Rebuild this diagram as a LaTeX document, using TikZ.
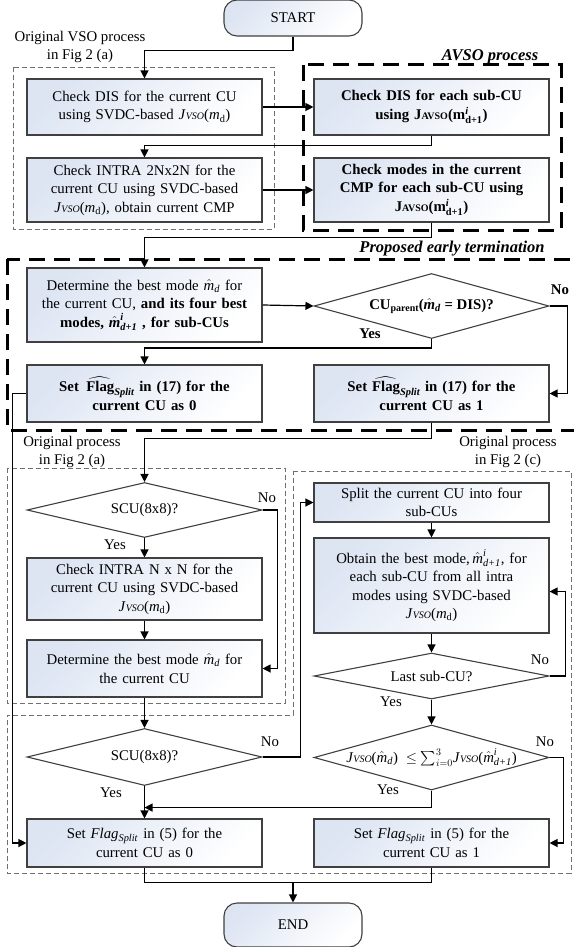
\documentclass[tikz,border=0pt]{standalone}
\usepackage{amsmath}
\usepackage{fontspec}
\setmainfont{Liberation Serif}
\usetikzlibrary{arrows.meta,shapes.geometric,calc}
\definecolor{boxFill}{HTML}{DDE5F3}
\definecolor{boxLine}{HTML}{404040}
\definecolor{dashGray}{HTML}{707070}
\newcommand{\Jv}{\textit{J}{\fontsize{10}{10}\selectfont\textit{VSO}}}
\newcommand{\Jav}{\textbf{J}{\fontsize{10}{10}\selectfont\bfseries AVSO}}
\newcommand{\mdv}{\textit{m}\textsubscript{d}}
\newcommand{\mhat}{$\hat{\textit{m}}_{\textit{d}}$}
\newcommand{\mhati}{$\hat{\textit{m}}^{\textit{i}}_{\textit{d+1}}$}
\newcommand{\mavso}{$\textbf{m}^{\textit{i}}_{\textbf{d+1}}$}

\begin{document}
\begin{tikzpicture}[
  x=1pt, y=-1pt,
  every node/.style={font=\fontsize{14.8}{18.5}\selectfont},
  proc/.style={
    draw=boxLine, line width=1.1pt, top color=boxFill, bottom color=white,
    shading angle=45, minimum width=235pt, text width=229pt, align=center,
    inner sep=2pt,
  },
  procb/.style={proc, font=\fontsize{14.8}{18.5}\selectfont\bfseries},
  term/.style={
    draw=boxLine, line width=1.1pt, top color=boxFill, bottom color=white,
    shading angle=45, rounded corners=13pt, minimum width=138pt,
  },
  decide/.style={diamond, draw=boxLine, line width=1.1pt, fill=white,
    minimum width=235pt, inner sep=0pt},
  arr/.style={-{Triangle[length=8pt,width=8pt]}, line width=1.2pt},
  thindash/.style={draw=dashGray, line width=0.9pt, dash pattern=on 5pt off 3pt},
  thickdash/.style={line width=3pt, dash pattern=on 16pt off 9pt},
  note/.style={align=center},
  title/.style={font=\fontsize{16.5}{20}\selectfont\bfseries\itshape},
]
\useasboundingbox (0,0) rectangle (573,947);

% Process regions
\draw[thindash] (13,67) rectangle (274,229);
\draw[thickdash] (303,65) rectangle (561,230);
\draw[thickdash] (7,259) rectangle (580,430);
\draw[thindash] (7,468) rectangle (285,703);
\draw[thindash] (293,471) -- (571,471) -- (571,873) -- (7,873) -- (7,715)
  -- (293,715) -- cycle;

% Region labels
\node[note] (lblVso) at (80,47) {Original VSO process\\in Fig 2 (a)};
\node[title] (lblAvso) at (490,57) {AVSO process};
\node[title] (lblEarly) at (452,249) {Proposed early termination};
\node[note] (lblOrigA) at (72,452) {Original process\\in Fig 2 (a)};
\node[note] (lblOrigC) at (508,452) {Original process\\in Fig 2 (c)};

% Top part
\node[term, minimum height=36pt] (start) at (293,18) {START};
\node[proc, minimum height=56pt] (dis) at (144.5,107)
  {Check DIS for the current CU\\using SVDC-based \Jv(\mdv)};
\node[procb, minimum height=56pt] (aDis) at (431.5,107)
  {Check DIS for each sub-CU\\using \Jav(\mavso)};
\node[proc, minimum height=64pt] (intra) at (144.5,190)
  {Check INTRA 2Nx2N for the\\current CU using SVDC-based\\\Jv(\mdv), obtain current CMP};
\node[procb, minimum height=64pt] (aModes) at (431.5,190)
  {Check modes in the current\\CMP for each sub-CU using\\\Jav(\mavso)};

% Early termination
\node[proc, minimum height=74pt] (best) at (144.5,305)
  {Determine the best mode \mhat{} for\\the current CU, \textbf{and its four best}\\\textbf{modes, \mhati{} , for sub-CUs}};
\node[decide, minimum height=65pt,
  label={[font=\fontsize{14.8}{18.5}\selectfont\bfseries]center:{CU\raisebox{-1.5pt}{\fontsize{10}{10}\selectfont parent}(\mhat{} = DIS)?}}]
  (parent) at (431.5,306) {};
\node[procb, minimum height=57pt] (set0) at (144.5,393.5)
  {Set \,$\widehat{\textbf{Flag}}_{\textit{Split}}$ in (17) for the\\current CU as 0};
\node[procb, minimum height=57pt] (set1) at (431.5,393.5)
  {Set $\widehat{\textbf{Flag}}_{\textit{Split}}$ in (17) for the\\current CU as 1};
\node (noP) at (560,290) {\textbf{No}};
\node (yesP) at (370,334) {\textbf{Yes}};

% Bottom left
\node[decide, minimum height=55pt, label=center:{SCU(8x8)?}] (scuA) at (144.5,510) {};
\node[proc, minimum height=62pt] (nxn) at (144.5,589)
  {Check INTRA N x N for the\\current CU using SVDC-based\\\Jv(\mdv)};
\node[proc, minimum height=57pt] (best2) at (144.5,668.5)
  {Determine the best mode \mhat{} for\\the current CU};
\node[decide, minimum height=57pt, label=center:{SCU(8x8)?}] (scuB) at (144.5,757) {};
\node (noA) at (267,498) {No};
\node (yesA) at (115,545) {Yes};
\node (noB) at (270,742) {No};
\node (yesB) at (111,793) {Yes};

% Bottom right
\node[proc, minimum height=39pt] (split) at (431.5,502.5)
  {Split the current CU into four\\sub-CUs};
\node[proc, minimum height=95pt] (obtain) at (431.5,585.5)
  {Obtain the best mode,\,\mhati, for\\each sub-CU from all intra\\modes using SVDC-based\\\Jv(\mdv)};
\node[decide, minimum height=46pt, label=center:{Last sub-CU?}] (last) at (431.5,676) {};
\node[decide, minimum height=65pt,
  label=center:{\Jv(\mhat{}) \;$\leq\sum_{i=0}^{3}$\Jv(\mhati)}]
  (jcmp) at (431.5,757.5) {};
\node (noL) at (540,660) {No};
\node (yesL) at (391,702) {Yes};
\node (noJ) at (545,742) {No};
\node (yesJ) at (388,790) {Yes};

% Flags and end
\node[proc, minimum height=48pt] (flag0) at (144.5,843)
  {Set \textit{Flag}\textsubscript{\textit{Split}} in (5) for the\\current CU as 0};
\node[proc, minimum height=48pt] (flag1) at (431.5,843)
  {Set \textit{Flag}\textsubscript{\textit{Split}} in (5) for the\\current CU as 1};
\node[term, minimum height=44pt] (end) at (293,925) {END};

% Connectors
\draw[arr] (start.south) -- ++(0,14) -| (dis.north);
\draw[arr] (dis.east) -- (aDis.west);
\draw[arr] (aDis.south) -- ++(0,10) -| (intra.north);
\draw[arr] (intra.east) -- (aModes.west);
\draw[arr] (aModes.south) -- ++(0,15) -| (best.north);
\draw[arr] (best.east) -- (parent.west);
\draw[arr] (parent.east) -- ++(18,0) |- (set1.east);
\draw[arr] (parent.south) -- ++(0,9) -| (set0.north);
\draw[arr] (set1.south) -- ++(0,16) -| (scuA.north);
\draw[arr] (set0.west) -- ++(-14,0) |- (flag0.west);
\draw[arr] (scuA.east) -- ++(15,0) |- (best2.east);
\draw[arr] (scuA.south) -- (nxn.north);
\draw[arr] (nxn) -- (best2);
\draw[arr] (best2) -- (scuB);
\draw[arr] (scuB.east) -- ++(38,0) |- (split.west);
\draw[arr] (scuB.south) -- (flag0.north);
\draw[arr] (split) -- (obtain);
\draw[arr] (obtain) -- (last);
\draw[arr] (last.east) -- ++(16,0) |- ([yshift=-6pt]obtain.east);
\draw[arr] (last) -- (jcmp);
\draw[arr] (jcmp.east) -- ++(14,0) |- (flag1.east);
\draw[arr] (jcmp.south) -- ++(0,17) coordinate (jy) -- (jy -| scuB.south);
\draw[line width=1.2pt] (flag0.south) -- ++(0,15) coordinate (fl) -| (flag1.south);
\draw[arr] (fl -| end.north) -- (end.north);

\end{tikzpicture}
\end{document}
